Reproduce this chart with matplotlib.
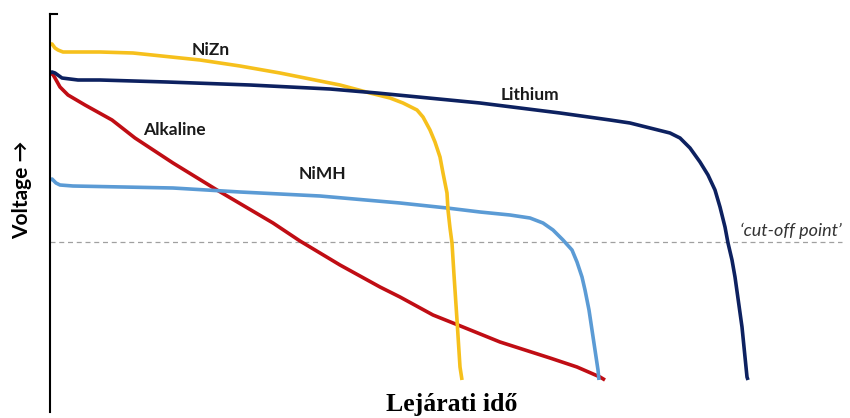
import matplotlib
matplotlib.use("Agg")
import matplotlib.pyplot as plt

# time in arbitrary units, voltage in volts
nizn_t = [0, 2, 5, 8, 13, 50, 83, 150, 190, 230, 260, 290, 320, 340, 353, 367, 373, 380, 385, 390, 393,
          397, 398, 400, 402, 404, 407, 410, 412]
nizn_v = [1.68, 1.68, 1.66, 1.65, 1.64, 1.64, 1.635, 1.60, 1.57, 1.535, 1.505, 1.475, 1.435, 1.41, 1.385,
          1.35, 1.315, 1.25, 1.19, 1.115, 1.035, 0.935, 0.85, 0.76, 0.685, 0.525, 0.30, 0.065, 0.0]

li_t = [0, 2, 5, 12, 28, 50, 117, 200, 280, 327, 430, 510, 560, 580, 600, 620, 630, 640, 650, 658,
        665, 670, 675, 678, 682, 685, 692, 697, 698]
li_v = [1.535, 1.54, 1.535, 1.51, 1.50, 1.50, 1.49, 1.475, 1.455, 1.435, 1.385, 1.335, 1.30, 1.285,
        1.26, 1.235, 1.21, 1.16, 1.09, 1.025, 0.95, 0.865, 0.765, 0.685, 0.60, 0.515, 0.265, 0.015, 0.0]

nimh_t = [0, 2, 6, 10, 23, 123, 190, 270, 350, 397, 430, 460, 480, 493, 503, 513, 522, 527, 532, 535,
          539, 542, 545, 548, 549]
nimh_v = [1.0, 1.005, 0.985, 0.975, 0.97, 0.96, 0.94, 0.92, 0.885, 0.86, 0.84, 0.825, 0.81, 0.785,
          0.75, 0.70, 0.65, 0.59, 0.515, 0.45, 0.35, 0.25, 0.15, 0.05, 0.0]

alk_t = [0, 2, 5, 10, 18, 35, 62, 85, 123, 167, 223, 250, 270, 290, 310, 330, 350, 383, 408, 450,
         500, 527, 550, 555]
alk_v = [1.53, 1.535, 1.51, 1.465, 1.425, 1.375, 1.30, 1.21, 1.085, 0.95, 0.785, 0.695, 0.635, 0.575,
         0.52, 0.465, 0.415, 0.325, 0.275, 0.19, 0.11, 0.065, 0.015, 0.0]

cutoff_v = 0.69
cutoff_end = 792

labels = ["NiZn", "Lithium", "Alkaline", "NiMH"]
label_t = [161, 480, 124, 272]
label_v = [1.65, 1.425, 1.25, 1.03]

fig = plt.figure(figsize=(8.5, 4.18), dpi=100)
ax = fig.add_axes([50 / 850, 6 / 418, 800 / 850, 398 / 418])

ax.plot([0, cutoff_end], [cutoff_v, cutoff_v], color="#a0a0a0", lw=0.9, dashes=(4, 3))

lw = 2.6
ax.plot(alk_t, alk_v, color="#c00d14", lw=lw, solid_capstyle="butt", solid_joinstyle="round")
ax.plot(nimh_t, nimh_v, color="#5b9bd5", lw=lw, solid_capstyle="butt", solid_joinstyle="round")
ax.plot(nizn_t, nizn_v, color="#f6c01c", lw=lw, solid_capstyle="butt", solid_joinstyle="round")
ax.plot(li_t, li_v, color="#0d2160", lw=lw, solid_capstyle="butt", solid_joinstyle="round")

for name, t, v in zip(labels, label_t, label_v):
    ax.text(t, v, name, ha="center", va="center", fontsize=12.5, fontweight="bold",
            family=["Lato", "DejaVu Sans"], color="#1a1a1a")

ax.text(690, 0.745, "\u2018cut-off point\u2019", ha="left", va="center", fontsize=13,
        style="italic", family=["Lato", "DejaVu Sans"], color="#333333")

ax.set_xlim(0, 800)
ax.set_ylim(-0.16, 1.83)
for s in ["top", "right", "bottom"]:
    ax.spines[s].set_visible(False)
ax.spines["left"].set_linewidth(1.5)
ax.set_xticks([])
ax.set_yticks([])
# small bracket at the top of the axis
ax.plot([0, 7 / 800], [1, 1], transform=ax.transAxes, color="black", lw=1.5, clip_on=False)

fig.text(22 / 850, 1 - 190 / 418, "Voltage \u2192", rotation=90, ha="center", va="center",
         fontsize=15, fontweight="bold", family=["Lato", "DejaVu Sans"])
fig.text(452 / 850, 1 - 404 / 418, "Lejárati idő", ha="center", va="center",
         fontsize=18.5, fontweight="bold", family="Liberation Serif")

fig.savefig("out.png", dpi=100)
